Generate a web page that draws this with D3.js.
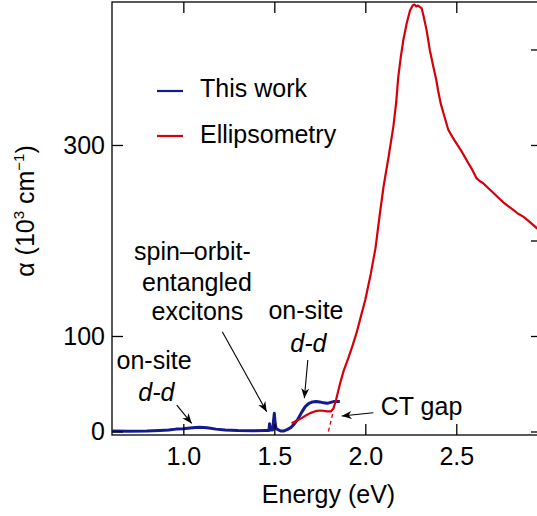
<!DOCTYPE html>
<html>
<head>
<meta charset="utf-8">
<script src="https://cdn.jsdelivr.net/npm/d3@7"></script>
<style>
  body { margin: 0; background: #fff; }
  svg { display: block; font-family: "Liberation Sans", Arial, sans-serif; }
</style>
</head>
<body>
<script>
// absorption from this work (blue)
var blueE = [0.61, 0.70, 0.80, 0.87, 0.92, 0.96, 1.00, 1.05, 1.09, 1.13, 1.18, 1.23, 1.30, 1.38, 1.45, 1.47,
  1.474, 1.478, 1.49, 1.495, 1.50, 1.505, 1.51, 1.52, 1.535, 1.55, 1.57, 1.59, 1.61, 1.63, 1.65, 1.67,
  1.69, 1.71, 1.73, 1.75, 1.77, 1.79, 1.81, 1.83, 1.86];
var blueA = [0.5, 0.3, 0.5, 1, 1.5, 2.5, 3, 4, 4.5, 4, 2.5, 1.5, 1, 0.8, 1, 1,
  8, 1.5, 1.5, 10, 19, 8, 3, 2, 0.5, 0.5, 2, 4, 8, 13, 20, 26,
  29.5, 31, 31.5, 31, 30, 29.5, 30.5, 31.5, 31.5];

// ellipsometry (red)
var redE = [1.595, 1.62, 1.65, 1.68, 1.70, 1.73, 1.76, 1.79, 1.81, 1.825, 1.839, 1.861, 1.88, 1.907, 1.93,
  1.953, 1.975, 2.0, 2.03, 2.056, 2.08, 2.10, 2.13, 2.154, 2.17, 2.181, 2.195, 2.209, 2.227, 2.246,
  2.26, 2.27, 2.28, 2.29, 2.31, 2.32, 2.337, 2.355, 2.374, 2.39, 2.40, 2.415, 2.43, 2.456, 2.48,
  2.50, 2.53, 2.557, 2.585, 2.612, 2.63, 2.648, 2.675, 2.703, 2.73, 2.758, 2.785, 2.813, 2.84,
  2.868, 2.90, 2.942, 2.971];
var redA = [8.6, 11, 14, 17.5, 19.5, 21.5, 22, 21, 21, 24, 33, 50, 63, 77, 90,
  104, 120, 138, 165, 192, 228, 256, 290, 319, 345, 371, 392, 410, 427, 441,
  446, 447, 445, 446, 443, 435, 420, 399, 382, 368, 357, 343, 333, 316, 308,
  302, 293, 284, 275, 265, 262, 260, 255, 250, 245, 240, 236, 232, 228,
  225, 220, 213, 208];

// dashed extrapolation to the CT gap
var ctE = [1.797, 1.824];
var ctA = [0, 21];

var xTicks = [1.0, 1.5, 2.0, 2.5];
var yLeftTicks = [0, 100, 300];
var yRightTicks = [0, 100, 200, 300, 400];

// annotation texts and arrows, in data units
var labels = [
  { t: "spin\u2013orbit-", e: 1.05, a: 180, it: false, anchor: "middle" },
  { t: "entangled", e: 1.075, a: 147, it: false, anchor: "middle" },
  { t: "excitons", e: 1.077, a: 117, it: false, anchor: "middle" },
  { t: "on-site", e: 0.839, a: 65, it: false, anchor: "middle" },
  { t: "d-d", e: 0.852, a: 32, it: true, anchor: "middle" },
  { t: "on-site", e: 1.674, a: 117.5, it: false, anchor: "middle" },
  { t: "d-d", e: 1.687, a: 83.6, it: true, anchor: "middle" },
  { t: "CT gap", e: 2.085, a: 17.3, it: false, anchor: "start" }
];
var arrows = [
  { e0: 0.964, a0: 27.7, e1: 1.046, a1: 8.5 },
  { e0: 1.214, a0: 104.5, e1: 1.458, a1: 20.7 },
  { e0: 1.684, a0: 74.9, e1: 1.665, a1: 34.8 },
  { e0: 2.044, a0: 19.7, e1: 1.870, a1: 16.2 }
];

var width = 537, height = 516;
var padL = 112, padT = 2, padR = 542, padB = 435;
var blue = "#121a8c", red = "#d6000c";

var x = d3.scaleLinear().domain([0.608, 2.971]).range([padL, padR]);
var y = d3.scaleLinear().domain([-3.66, 449.7]).range([padB, padT]);

var svg = d3.select("body").append("svg")
    .attr("width", width)
    .attr("height", height);

svg.append("defs").append("clipPath").attr("id", "clip")
  .append("rect").attr("x", padL).attr("y", padT).attr("width", padR - padL).attr("height", padB - padT);

var line = d3.line()
    .x(function(d) { return x(d[0]); })
    .y(function(d) { return y(d[1]); });

var plot = svg.append("g").attr("clip-path", "url(#clip)");

plot.append("path")
    .datum(d3.zip(blueE, blueA))
    .attr("d", line)
    .attr("fill", "none")
    .attr("stroke", blue)
    .attr("stroke-width", 3)
    .attr("stroke-linejoin", "round");

plot.append("path")
    .datum(d3.zip(ctE, ctA))
    .attr("d", line)
    .attr("fill", "none")
    .attr("stroke", red)
    .attr("stroke-width", 1.3)
    .attr("stroke-dasharray", "4,3");

plot.append("path")
    .datum(d3.zip(redE, redA))
    .attr("d", line)
    .attr("fill", "none")
    .attr("stroke", red)
    .attr("stroke-width", 2.2)
    .attr("stroke-linejoin", "round");

// frame
svg.append("rect")
    .attr("x", padL).attr("y", padT)
    .attr("width", padR - padL).attr("height", padB - padT)
    .attr("fill", "none").attr("stroke", "#000").attr("stroke-width", 1.3);

var xAxis = svg.append("g")
    .attr("transform", "translate(0," + padB + ")")
    .call(d3.axisBottom(x).tickValues(xTicks).tickSize(-11).tickFormat(d3.format(".1f")));
svg.append("g")
    .attr("transform", "translate(0," + padT + ")")
    .call(d3.axisTop(x).tickValues(xTicks).tickSize(-11).tickFormat(""));
var yAxis = svg.append("g")
    .attr("transform", "translate(" + padL + ",0)")
    .call(d3.axisLeft(y).tickValues(yLeftTicks).tickSize(-11).tickPadding(7));
svg.append("g")
    .attr("transform", "translate(" + padR + ",0)")
    .call(d3.axisRight(y).tickValues(yRightTicks).tickSize(-11).tickFormat(""));

svg.selectAll(".domain").remove();
svg.selectAll(".tick line").attr("stroke", "#000").attr("stroke-width", 1.3);
svg.selectAll(".tick text").attr("fill", "#000").attr("font-size", 25)
    .attr("font-family", "Liberation Sans, Arial, sans-serif");
xAxis.selectAll(".tick text").attr("y", 30).attr("dy", 0);
yAxis.selectAll(".tick text").attr("dy", "0.33em");

// axis titles
svg.append("text")
    .attr("x", (padL + 545) / 2)
    .attr("y", 503)
    .attr("text-anchor", "middle")
    .attr("font-size", 25)
    .text("Energy (eV)");

var yl = svg.append("text")
    .attr("transform", "translate(34," + 211 + ") rotate(-90)")
    .attr("text-anchor", "middle")
    .attr("font-size", 25);
yl.append("tspan").text("\u03b1 (10");
yl.append("tspan").attr("font-size", 15).attr("dy", -10).text("3");
yl.append("tspan").attr("dy", 10).text(" cm");
yl.append("tspan").attr("font-size", 15).attr("dy", -10).text("\u22121");
yl.append("tspan").attr("dy", 10).text(")");

// legend
var legend = [["This work", blue, 91], ["Ellipsometry", red, 136]];
legend.forEach(function(l) {
  svg.append("line")
      .attr("x1", 157).attr("x2", 183)
      .attr("y1", l[2]).attr("y2", l[2])
      .attr("stroke", l[1]).attr("stroke-width", 2.2);
  svg.append("text")
      .attr("x", 200).attr("y", l[2] + 6 + (l[0] === "Ellipsometry" ? 1 : 0))
      .attr("font-size", 25)
      .text(l[0]);
});

// annotations
svg.append("defs").append("marker")
    .attr("id", "head")
    .attr("viewBox", "0 0 10 10")
    .attr("refX", 10).attr("refY", 5)
    .attr("markerWidth", 10).attr("markerHeight", 10)
    .attr("markerUnits", "userSpaceOnUse")
    .attr("orient", "auto")
  .append("path")
    .attr("d", "M0,1 L10,5 L0,9 L3,5 Z")
    .attr("fill", "#000");

svg.selectAll(".arrow")
    .data(arrows)
    .enter().append("line")
    .attr("class", "arrow")
    .attr("x1", function(d) { return x(d.e0); })
    .attr("y1", function(d) { return y(d.a0); })
    .attr("x2", function(d) { return x(d.e1); })
    .attr("y2", function(d) { return y(d.a1); })
    .attr("stroke", "#000")
    .attr("stroke-width", 1.1)
    .attr("marker-end", "url(#head)");

svg.selectAll(".note")
    .data(labels)
    .enter().append("text")
    .attr("class", "note")
    .attr("x", function(d) { return x(d.e); })
    .attr("y", function(d) { return y(d.a); })
    .attr("text-anchor", function(d) { return d.anchor; })
    .attr("font-style", function(d) { return d.it ? "italic" : "normal"; })
    .attr("font-size", 25)
    .text(function(d) { return d.t; });
</script>
</body>
</html>
